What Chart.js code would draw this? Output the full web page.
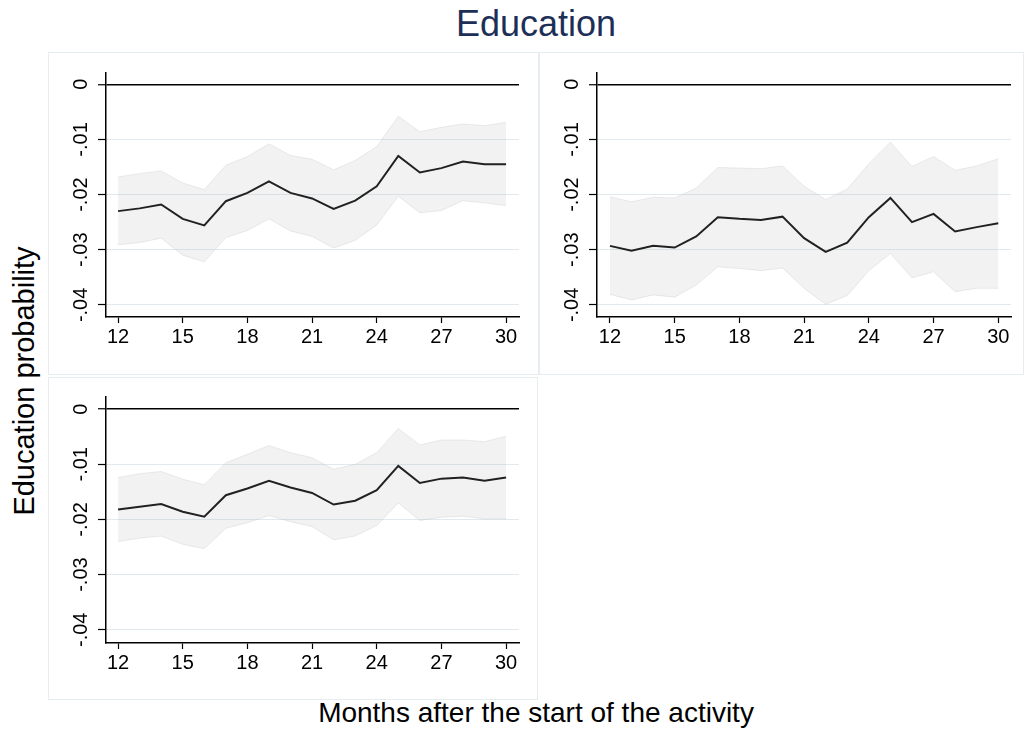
<!DOCTYPE html>
<html>
<head>
<meta charset="utf-8">
<script src="https://cdn.jsdelivr.net/npm/chart.js@4/dist/chart.umd.min.js"></script>
<style>
  html, body { margin: 0; padding: 0; background: #fff; }
  body { width: 1024px; height: 733px; position: relative; overflow: hidden;
         font-family: "Liberation Sans", Arial, sans-serif; }
  .frame { position: absolute; box-sizing: border-box; border: 1px solid #e6edf0; }
  canvas { position: absolute; }
  #title { position: absolute; left: 48px; width: 976px; top: 3px; text-align: center;
           font-size: 36px; line-height: normal; color: #1e2f57; }
  #ytitle { position: absolute; left: 24px; top: 381px; transform: translate(-50%, -50%) rotate(-90deg);
            white-space: nowrap; font-size: 29px; color: #000; }
  #xtitle { position: absolute; left: 48px; width: 976px; top: 697px; text-align: center;
            font-size: 28px; line-height: normal; color: #000; }
</style>
</head>
<body>
<div id="title">Education</div>
<div id="ytitle">Education probability</div>
<div id="xtitle">Months after the start of the activity</div>

<div class="frame" style="left:48px;top:52px;width:491px;height:323px"></div>
<div class="frame" style="left:539px;top:52px;width:485px;height:323px"></div>
<div class="frame" style="left:48px;top:377px;width:490px;height:323px"></div>

<canvas id="p1" width="491" height="323" style="left:48px;top:52px"></canvas>
<canvas id="p2" width="485" height="323" style="left:539px;top:52px"></canvas>
<canvas id="p3" width="490" height="323" style="left:48px;top:377px"></canvas>

<script>
// Months after the start of the activity
const months = [12, 13, 14, 15, 16, 17, 18, 19, 20, 21, 22, 23, 24, 25, 26, 27, 28, 29, 30];
const xTicks = [12, 15, 18, 21, 24, 27, 30];
const yTicks = [0, -0.01, -0.02, -0.03, -0.04];
const yTickLabels = ["0", "-.01", "-.02", "-.03", "-.04"];

// Panel 1: point estimate and confidence band
const estA = [-0.0230, -0.0225, -0.0218, -0.0244, -0.0256, -0.0212, -0.0197, -0.0176, -0.0197, -0.0207,
              -0.0226, -0.0211, -0.0185, -0.0130, -0.0160, -0.0152, -0.0140, -0.0145, -0.0145];
const upA  = [-0.0168, -0.0162, -0.0157, -0.0179, -0.0191, -0.0147, -0.0131, -0.0108, -0.0129, -0.0136,
              -0.0155, -0.0138, -0.0113, -0.0058, -0.0086, -0.0078, -0.0072, -0.0075, -0.0069];
const loA  = [-0.0291, -0.0287, -0.0279, -0.0310, -0.0322, -0.0278, -0.0265, -0.0244, -0.0266, -0.0276,
              -0.0297, -0.0283, -0.0255, -0.0203, -0.0233, -0.0229, -0.0211, -0.0215, -0.0220];

// Panel 2
const estB = [-0.0293, -0.0302, -0.0293, -0.0296, -0.0276, -0.0241, -0.0244, -0.0246, -0.0240, -0.0279,
              -0.0304, -0.0287, -0.0241, -0.0206, -0.0250, -0.0235, -0.0267, -0.0259, -0.0252];
const upB  = [-0.0204, -0.0213, -0.0205, -0.0206, -0.0188, -0.0151, -0.0152, -0.0153, -0.0148, -0.0185,
              -0.0209, -0.0190, -0.0144, -0.0105, -0.0149, -0.0131, -0.0156, -0.0148, -0.0135];
const loB  = [-0.0381, -0.0391, -0.0382, -0.0386, -0.0364, -0.0331, -0.0334, -0.0338, -0.0333, -0.0370,
              -0.0399, -0.0383, -0.0338, -0.0307, -0.0351, -0.0340, -0.0376, -0.0370, -0.0370];

// Panel 3
const estC = [-0.0182, -0.0177, -0.0172, -0.0186, -0.0195, -0.0156, -0.0144, -0.0130, -0.0142, -0.0152,
              -0.0173, -0.0166, -0.0147, -0.0103, -0.0134, -0.0126, -0.0124, -0.0130, -0.0124];
const upC  = [-0.0124, -0.0117, -0.0113, -0.0127, -0.0137, -0.0097, -0.0082, -0.0066, -0.0079, -0.0088,
              -0.0109, -0.0100, -0.0079, -0.0035, -0.0065, -0.0056, -0.0056, -0.0059, -0.0049];
const loC  = [-0.0240, -0.0234, -0.0230, -0.0245, -0.0253, -0.0216, -0.0206, -0.0193, -0.0204, -0.0213,
              -0.0237, -0.0230, -0.0211, -0.0170, -0.0202, -0.0196, -0.0194, -0.0199, -0.0199];

const FONT = '"Liberation Sans", Arial, sans-serif';
const TICK_SIZE = 20;

// Rotated y tick labels, placed through the y scale
const yLabelPlugin = {
  id: 'yLabels',
  afterDraw(chart) {
    const ys = chart.scales.y;
    const ctx = chart.ctx;
    ctx.save();
    ctx.font = TICK_SIZE + 'px ' + FONT;
    ctx.fillStyle = '#000';
    ctx.textAlign = 'center';
    ctx.textBaseline = 'middle';
    yTicks.forEach((v, i) => {
      const y = ys.getPixelForValue(v);
      ctx.save();
      ctx.translate(chart.chartArea.left - 25, y);
      ctx.rotate(-Math.PI / 2);
      ctx.fillText(yTickLabels[i], 0, 0);
      ctx.restore();
    });
    ctx.restore();
  }
};

function pts(vals) { return months.map((m, i) => ({ x: m, y: vals[i] })); }

function makePanel(id, est, up, lo, box) {
  new Chart(document.getElementById(id), {
    type: 'line',
    data: {
      datasets: [
        { data: pts(up), fill: '+1', backgroundColor: 'rgba(185,185,185,0.18)',
          borderColor: 'rgba(200,200,200,0.35)', borderWidth: 1, pointRadius: 0, tension: 0 },
        { data: pts(lo), fill: false,
          borderColor: 'rgba(200,200,200,0.35)', borderWidth: 1, pointRadius: 0, tension: 0 },
        { data: pts(est), fill: false, borderColor: '#000', borderWidth: 2,
          pointRadius: 0, tension: 0 }
      ]
    },
    options: {
      responsive: false,
      animation: false,
      devicePixelRatio: 1,
      layout: { padding: { left: 0, top: box.top, right: box.right, bottom: 0 } },
      plugins: { legend: { display: false }, tooltip: { enabled: false } },
      scales: {
        x: {
          type: 'linear', min: box.xmin, max: box.xmax,
          afterBuildTicks: s => { s.ticks = xTicks.map(v => ({ value: v })); },
          afterFit: s => { s.height = box.xh; },
          grid: { drawOnChartArea: false, drawTicks: true, tickLength: 6, tickColor: '#000', tickWidth: 1.2 },
          border: { color: '#000', width: 1.5 },
          ticks: { font: { family: FONT, size: TICK_SIZE }, color: '#000', padding: 2,
                   maxRotation: 0, minRotation: 0, autoSkip: false }
        },
        y: {
          type: 'linear', min: box.ymin, max: box.ymax,
          afterBuildTicks: s => { s.ticks = yTicks.map(v => ({ value: v })); },
          afterFit: s => { s.width = 58; },
          grid: {
            color: c => (c.tick && c.tick.value === 0) ? '#000' : '#e0e9ed',
            lineWidth: c => (c.tick && c.tick.value === 0) ? 1.5 : 1,
            drawTicks: true, tickLength: 8, tickColor: '#000', tickWidth: 1.2
          },
          border: { color: '#000', width: 1.5 },
          ticks: { display: false }
        }
      }
    },
    plugins: [yLabelPlugin]
  });
}

makePanel('p1', estA, upA, loA, { top: 21, right: 20, xh: 58, xmin: 11.44, xmax: 30.6, ymin: -0.0422, ymax: 0.00205 });
makePanel('p2', estB, upB, loB, { top: 21, right: 13, xh: 58, xmin: 11.40, xmax: 30.59, ymin: -0.0422, ymax: 0.00205 });
makePanel('p3', estC, upC, loC, { top: 20, right: 19, xh: 57, xmin: 11.44, xmax: 30.6, ymin: -0.0424, ymax: 0.0022 });
</script>
</body>
</html>
